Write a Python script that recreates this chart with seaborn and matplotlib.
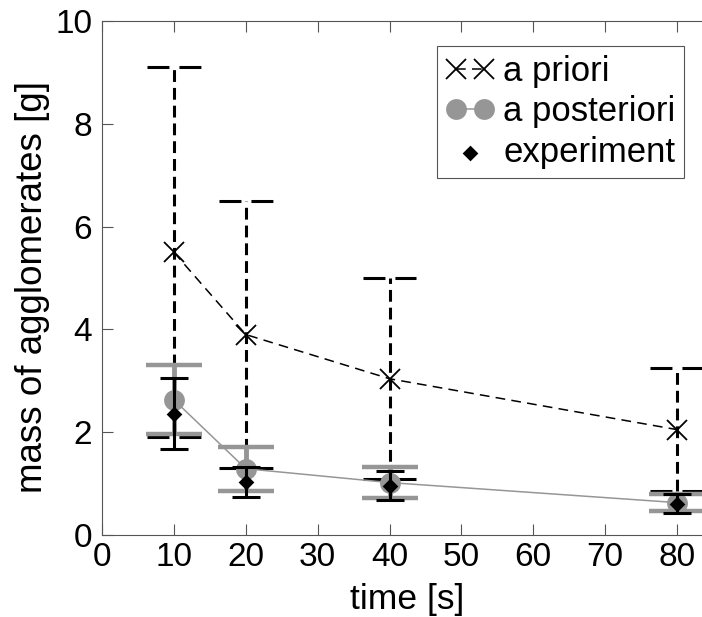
import numpy as np
import pandas as pd
import seaborn as sns
import matplotlib
matplotlib.use("Agg")
import matplotlib.pyplot as plt

# values
time_s = [10, 20, 40, 80]
prior_mass = [5.5, 3.9, 3.04, 2.05]
prior_err = [3.6, 2.6, 1.96, 1.2]
post_mass = [2.63, 1.29, 1.02, 0.63]
post_err = [0.67, 0.43, 0.30, 0.17]
exp_mass = [2.36, 1.03, 0.96, 0.61]
exp_err = [0.69, 0.29, 0.28, 0.19]

df = pd.DataFrame({"time": time_s, "prior": prior_mass, "post": post_mass, "exp": exp_mass})

GRAY = "#969696"
EDGE = "#555555"

sns.set_style("ticks")
plt.rcParams["font.family"] = ["Liberation Sans", "DejaVu Sans"]
plt.rcParams["lines.scale_dashes"] = False
plt.rcParams["text.color"] = "k"
plt.rcParams["axes.labelcolor"] = "k"

fig = plt.figure(figsize=(7.02, 6.17), dpi=100)
# axes runs to x=85, a bit past the right edge of the picture (cropped like the original)
ax = fig.add_axes([102 / 702, 82 / 617, 611 / 702, 514 / 617])

# a priori: dashed error bars with dashed caps
x = np.array(time_s)
eb = ax.errorbar(time_s, prior_mass, yerr=prior_err, fmt="none", ecolor="k",
                 elinewidth=2.2, capsize=0, zorder=1)
eb[2][0].set_linestyle((0, (8.5, 4.3)))
cap_w = 3.75
for yc in (np.array(prior_mass) + prior_err, np.array(prior_mass) - prior_err):
    ax.hlines(yc, x - cap_w, x + cap_w, colors="k", lw=2.2,
              linestyles=[(0, (15.8, 7.2))], zorder=1)

sns.lineplot(data=df, x="time", y="prior", ax=ax, color="k", marker="x",
             markersize=15, markeredgewidth=1.3, markeredgecolor="k", linewidth=1.1,
             linestyle=(0, (7, 4.5)), zorder=2)
h_prior = ax.lines[-1]

# a posteriori
ax.errorbar(time_s, post_mass, yerr=post_err, fmt="none", ecolor=GRAY,
            elinewidth=3.5, capsize=20, capthick=3.2, zorder=3)
sns.lineplot(data=df, x="time", y="post", ax=ax, color=GRAY, marker="o",
             markersize=15, markeredgewidth=0, linewidth=1.1, zorder=4)
h_post = ax.lines[-1]

# experiment
ax.errorbar(time_s, exp_mass, yerr=exp_err, fmt="none", ecolor="k",
            elinewidth=2.2, capsize=10, capthick=2.2, zorder=5)
sns.scatterplot(data=df, x="time", y="exp", ax=ax, color="k", marker="D",
                s=64, edgecolor="k", linewidth=0, zorder=6)
h_exp = ax.collections[-1]

ax.set_xlim(0, 85)
ax.set_ylim(0, 10)
ax.set_xticks(range(0, 81, 10))
ax.set_yticks(range(0, 11, 2))
ax.tick_params(direction="in", top=True, right=True, length=8, width=0.8,
               color=EDGE, labelcolor="k", labelsize=24)
ax.tick_params(axis="x", pad=5)
ax.tick_params(axis="y", pad=7)
for sp in ax.spines.values():
    sp.set_color(EDGE)
    sp.set_linewidth(0.8)

ax.set_xlabel("time [s]", fontsize=25.5, labelpad=7)
ax.set_ylabel("mass of agglomerates [g]", fontsize=26.5, labelpad=4)
ax.yaxis.label.set_y(0.4825)

leg = ax.legend([h_prior, h_post, h_exp], ["a priori", "a posteriori", "experiment"],
                loc="upper right", bbox_to_anchor=(0.9525, 0.9514), borderaxespad=0,
                fontsize=25, handlelength=1.4, handletextpad=0.25, borderpad=0.25,
                labelspacing=0.22, numpoints=2, scatterpoints=1,
                frameon=True, fancybox=False, edgecolor=EDGE, framealpha=1)
leg.get_frame().set_linewidth(0.8)

fig.savefig("out.png", dpi=100)
